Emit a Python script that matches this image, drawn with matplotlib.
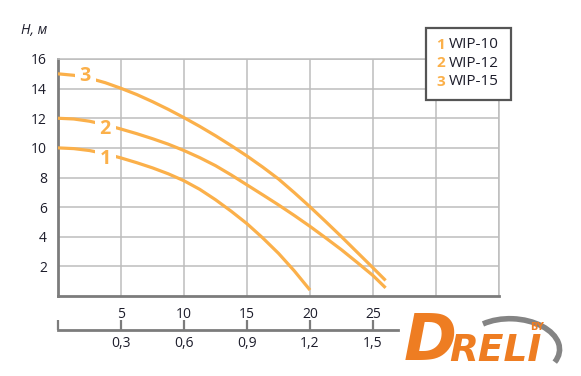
import matplotlib
matplotlib.use("Agg")
import matplotlib.pyplot as plt
from matplotlib.patches import Rectangle, Arc, Polygon

plt.rcParams['font.family'] = ['Open Sans', 'DejaVu Sans']

# flow, m3/h (primary axis) and head, m
q_wip10 = [0, 1.25, 2.5, 3.75, 5, 6.25, 7.5, 8.75, 10, 11.25, 12.5,
           13.75, 15, 16.25, 17.5, 18.75, 20]
h_wip10 = [10.0, 9.95, 9.82, 9.6, 9.32, 9.0, 8.65, 8.25, 7.78, 7.2, 6.5,
           5.72, 4.88, 3.92, 2.88, 1.7, 0.4]

q_wip12 = [0, 1.25, 2.5, 3.75, 5, 6.25, 7.5, 8.75, 10, 11.25, 12.5,
           13.75, 15, 16.25, 17.5, 18.75, 20, 21.25, 22.5, 23.75, 25, 26]
h_wip12 = [12.0, 11.95, 11.8, 11.56, 11.27, 10.96, 10.62, 10.25, 9.82,
           9.34, 8.8, 8.17, 7.5, 6.83, 6.15, 5.44, 4.7, 3.92, 3.12, 2.26,
           1.38, 0.55]

q_wip15 = [0, 1.25, 2.5, 3.75, 5, 6.25, 7.5, 8.75, 10, 11.25, 12.5,
           13.75, 15, 16.25, 17.5, 18.75, 20, 21.25, 22.5, 23.75, 25, 26]
h_wip15 = [15.0, 14.9, 14.7, 14.4, 14.02, 13.6, 13.12, 12.6, 12.04, 11.45,
           10.82, 10.15, 9.45, 8.7, 7.9, 6.98, 6.02, 5.02, 4.0, 2.95, 1.9,
           1.05]

models = ['WIP-10', 'WIP-12', 'WIP-15']
x_ticks = [5, 10, 15, 20, 25]
y_ticks = [2, 4, 6, 8, 10, 12, 14, 16]
sec_ticks = [0, 0.3, 0.6, 0.9, 1.2, 1.5]
sec_labels = ['', '0,3', '0,6', '0,9', '1,2', '1,5']
curve_labels = [('1', 3.78, 9.25), ('2', 3.78, 11.27), ('3', 2.17, 14.87)]

ORANGE = '#fbb04a'
TEXT = '#1d1d2b'
GRID = '#bdbdbd'
SPINE = '#7c7c7c'
W, H = 581, 376

fig = plt.figure(figsize=(W / 100, H / 100), dpi=100)
ax = fig.add_axes([58 / W, 1 - 296 / H, (499 - 58) / W, (296 - 59) / H])
ax.set_xlim(0, 35)
ax.set_ylim(0, 16)

for q, h in [(q_wip10, h_wip10), (q_wip12, h_wip12), (q_wip15, h_wip15)]:
    ax.plot(q, h, color=ORANGE, lw=2.3, solid_capstyle='butt', zorder=3)

# number on each curve, with a white gap cut into the line
for txt, qx, hy in curve_labels:
    ax.text(qx, hy, ' ' + txt + ' ', color=ORANGE, fontsize=14,
            fontweight='bold', ha='center', va='center', zorder=4,
            bbox=dict(facecolor='white', edgecolor='none', pad=0))

ax.set_xticks(range(5, 36, 5))
ax.set_xticklabels([str(t) if t in x_ticks else '' for t in range(5, 36, 5)])
ax.set_yticks(y_ticks)
ax.tick_params(axis='both', length=0, labelsize=10, labelcolor=TEXT)
ax.tick_params(axis='x', pad=8)
ax.tick_params(axis='y', pad=8)
ax.grid(True, color=GRID, lw=1.1, zorder=0)
ax.set_axisbelow(True)
for s in ['left', 'bottom']:
    ax.spines[s].set_color(SPINE)
    ax.spines[s].set_linewidth(2)
for s in ['top', 'right']:
    ax.spines[s].set_color(GRID)
    ax.spines[s].set_linewidth(1.1)

# second flow scale
sec = ax.secondary_xaxis((296 - 330) / (296 - 59),
                         functions=(lambda v: v * 0.06, lambda v: v / 0.06))
sec.set_xticks(sec_ticks)
sec.set_xticklabels(sec_labels)
sec.tick_params(direction='in', length=7, width=1.6, color=SPINE,
                labelsize=10, labelcolor=TEXT, pad=4)
sec.spines['bottom'].set_color(SPINE)
sec.spines['bottom'].set_linewidth(2)
sec.spines['bottom'].set_bounds(0, 27 * 0.06)

fig.text(34.5 / W, 1 - 30 / H, 'H, м', fontsize=10, style='italic',
         color=TEXT, ha='center', va='center')

# legend box
fig.patches.append(Rectangle((426 / W, 1 - 100 / H), (511 - 426) / W, 72 / H,
                             transform=fig.transFigure, facecolor='white',
                             edgecolor='#555555', lw=1.6))
for i, name in enumerate(models):
    yy = 1 - (45 + 18.3 * i) / H
    fig.text(436 / W, yy, str(i + 1), color=ORANGE, fontsize=11,
             fontweight='bold', ha='left', va='center')
    fig.text(449 / W, yy, name, color=TEXT, fontsize=11,
             ha='left', va='center')

# logo
LOGO = '#ee7d22'
fig.text(404 / W, 1 - 342 / H, 'D', color=LOGO, fontsize=46,
         fontweight='bold', style='italic', family='DejaVu Sans',
         ha='left', va='center')
fig.text(449 / W, 1 - 351 / H, 'RELI', color=LOGO, fontsize=27,
         fontweight='bold', style='italic', family='DejaVu Sans',
         ha='left', va='center')
fig.patches.append(Arc((512 / W, 1 - 348 / H), 96 / W, 58 / H, angle=-22,
                       theta1=-5, theta2=150, transform=fig.transFigure,
                       color='#6e6e6e', lw=4, alpha=0.85, zorder=5))
fig.text(537 / W, 1 - 327 / H, 'BY', color=LOGO, fontsize=7,
         fontweight='bold', family='DejaVu Sans', ha='center', va='center',
         zorder=6)
drill = [(417, 333), (440, 333), (440, 338), (446, 339), (446, 342),
         (440, 343), (438, 347), (431, 347), (429, 357), (422, 357),
         (423, 346), (417, 344)]
fig.patches.append(Polygon([(x / W, 1 - y / H) for x, y in drill],
                           closed=True, transform=fig.transFigure,
                           facecolor='white', edgecolor='none'))

fig.savefig('out.png', dpi=100)
